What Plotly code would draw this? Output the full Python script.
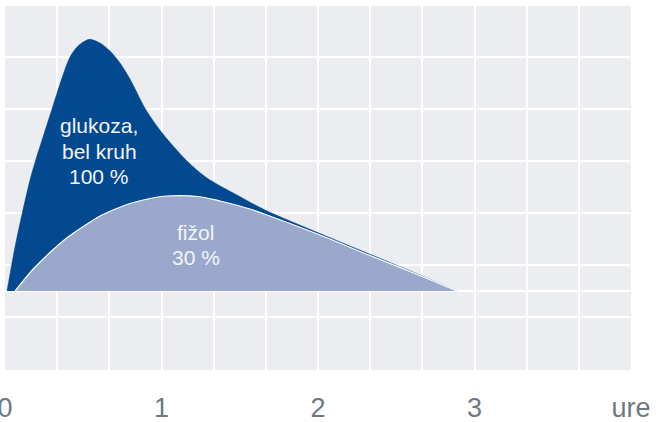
import plotly.graph_objects as go

# hours
glukoza_x = [0.0128, 0.0639, 0.1105, 0.1597, 0.1962, 0.2428, 0.2984, 0.3514, 0.4153,
             0.4665, 0.5387, 0.6070, 0.6709, 0.7348, 0.7987, 0.9010, 1.0096, 1.1629,
             1.2907, 1.4824, 1.6613, 2.0128, 2.3131, 2.6518, 2.8863]
glukoza_y = [0.0, 0.846, 1.5, 2.135, 2.519, 2.962, 3.481, 3.981, 4.5,
             4.712, 4.84, 4.769, 4.615, 4.385, 4.077, 3.481, 3.019, 2.5,
             2.173, 1.846, 1.558, 1.106, 0.731, 0.308, 0.0]

fizol_x = [0.0639, 0.1808, 0.2875, 0.3942, 0.5003, 0.6070, 0.7137, 0.7987, 0.9265,
           1.0332, 1.2460, 1.3738, 1.5655, 1.6613, 2.0128, 2.3323, 2.6518, 2.8863]
fizol_y = [0.0, 0.423, 0.740, 1.019, 1.240, 1.442, 1.587, 1.683, 1.779,
           1.827, 1.813, 1.731, 1.577, 1.475, 1.077, 0.683, 0.298, 0.0]

tick_vals = [i / 3 for i in range(13)]
tick_text = ["0", "", "", "1", "", "", "2", "", "", "3", "", "", "ure"]

label_glukoza = ["glukoza,", "bel kruh", "100 %"]
label_fizol = ["fižol", "30 %"]

DARK = "#02498f"
LIGHT = "#9aa8cc"

fig = go.Figure()
fig.add_trace(go.Scatter(
    x=glukoza_x, y=glukoza_y, mode="lines", fill="tozeroy",
    line=dict(color=DARK, width=0.5, shape="spline", smoothing=0.8),
    fillcolor=DARK, hoverinfo="skip", showlegend=False))
fig.add_trace(go.Scatter(
    x=fizol_x, y=fizol_y, mode="lines", fill="tozeroy",
    line=dict(color="white", width=1.2, shape="spline", smoothing=0.8),
    fillcolor=LIGHT, hoverinfo="skip", showlegend=False))

txt_font = dict(family="Liberation Sans, Arial, sans-serif", size=21, color="#f2f4f8")
for text, y in zip(label_glukoza, [3.183, 2.692, 2.202]):
    fig.add_annotation(x=0.601, y=y, text=text, showarrow=False, font=txt_font,
                       xanchor="center", yanchor="middle")
for text, y in zip(label_fizol, [1.125, 0.635]):
    fig.add_annotation(x=1.2204, y=y, text=text, showarrow=False, font=txt_font,
                       xanchor="center", yanchor="middle")

fig.update_layout(
    width=657, height=422,
    margin=dict(l=5, r=26, t=6, b=52, autoexpand=False),
    paper_bgcolor="white", plot_bgcolor="#ecedf0",
    font=dict(family="Liberation Sans, Arial, sans-serif"),
    xaxis=dict(range=[0, 4], tickmode="array", tickvals=tick_vals, ticktext=tick_text,
               showgrid=True, gridcolor="white", gridwidth=2, zeroline=False,
               showline=False, ticks="", automargin=False,
               ticklabeloverflow="allow", ticklabelstandoff=19,
               tickfont=dict(size=27, color="#6e7882",
                             family="Liberation Sans, Arial, sans-serif"),
               fixedrange=True),
    yaxis=dict(range=[-1.519, 5.481], tick0=0.5, dtick=1, showticklabels=False,
               showgrid=True, gridcolor="white", gridwidth=2, automargin=False,
               zeroline=True, zerolinecolor="white", zerolinewidth=2,
               showline=False, ticks="", fixedrange=True),
)

fig.write_html(
    "out.html",
    config={"displayModeBar": False},
    post_script="document.body.style.margin='0';document.body.style.padding='0';"
                "document.body.style.overflow='hidden';",
)
